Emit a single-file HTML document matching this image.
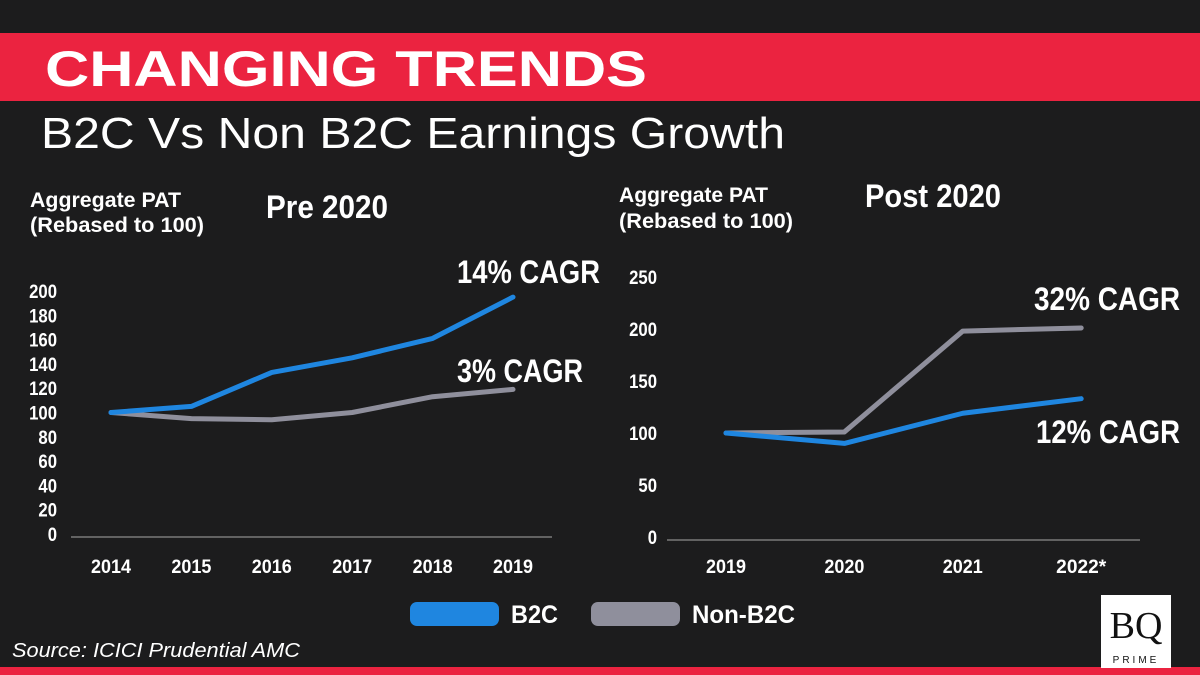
<!DOCTYPE html>
<html><head><meta charset="utf-8"><style>
body{margin:0;width:1200px;height:675px;overflow:hidden;background:#1c1c1d}
svg{display:block}
.n{font-family:"Liberation Sans Narrow","Liberation Sans",sans-serif;font-weight:bold;fill:#fff}
</style></head><body>
<svg width="1200" height="675" viewBox="0 0 1200 675">
<rect width="1200" height="675" fill="#1c1c1d"/>
<rect x="0" y="33" width="1200" height="68" fill="#eb2340"/>
<text x="45" y="86" font-family="Liberation Sans, sans-serif" font-weight="bold" font-size="50" fill="#fff" textLength="602" lengthAdjust="spacingAndGlyphs">CHANGING TRENDS</text>
<text x="41" y="148" font-family="Liberation Sans, sans-serif" font-size="44" fill="#fff" textLength="744" lengthAdjust="spacingAndGlyphs">B2C Vs Non B2C Earnings Growth</text>
<text class="n" x="30" y="207" font-size="21" textLength="151" lengthAdjust="spacingAndGlyphs">Aggregate PAT</text>
<text class="n" x="30" y="232" font-size="21" textLength="174" lengthAdjust="spacingAndGlyphs">(Rebased to 100)</text>
<text class="n" x="266" y="218" font-size="32" textLength="122" lengthAdjust="spacingAndGlyphs">Pre 2020</text>
<text class="n" x="619" y="202" font-size="21" textLength="149" lengthAdjust="spacingAndGlyphs">Aggregate PAT</text>
<text class="n" x="619" y="228" font-size="21" textLength="174" lengthAdjust="spacingAndGlyphs">(Rebased to 100)</text>
<text class="n" x="865" y="207" font-size="32" textLength="136" lengthAdjust="spacingAndGlyphs">Post 2020</text>
<g id="left"></g>
<g id="right"></g>
<text class="n" x="457" y="283" font-size="32" textLength="143" lengthAdjust="spacingAndGlyphs">14% CAGR</text>
<text class="n" x="457" y="382" font-size="32" textLength="126" lengthAdjust="spacingAndGlyphs">3% CAGR</text>
<text class="n" x="1034" y="310" font-size="32" textLength="146" lengthAdjust="spacingAndGlyphs">32% CAGR</text>
<text class="n" x="1036" y="443" font-size="32" textLength="144" lengthAdjust="spacingAndGlyphs">12% CAGR</text>
<rect x="410" y="602" width="89" height="24" rx="7" fill="#1f86e0"/>
<text class="n" x="511" y="623" font-size="25" textLength="47" lengthAdjust="spacingAndGlyphs">B2C</text>
<rect x="591" y="602" width="89" height="24" rx="7" fill="#8f8f9c"/>
<text class="n" x="692" y="623" font-size="25" textLength="103" lengthAdjust="spacingAndGlyphs">Non-B2C</text>
<text x="12" y="657" font-family="Liberation Sans, sans-serif" font-style="italic" font-size="20" fill="#fff" textLength="288" lengthAdjust="spacingAndGlyphs">Source: ICICI Prudential AMC</text>
<rect x="0" y="667" width="1200" height="8" fill="#eb2340"/>
<g>
<rect x="1101" y="595" width="70" height="73" fill="#fff"/>
<text x="1136" y="638" text-anchor="middle" font-family="Liberation Serif, serif" font-size="38" fill="#111">BQ</text>
<text x="1136" y="663" text-anchor="middle" font-family="Liberation Sans, sans-serif" font-size="10" letter-spacing="3" fill="#111">PRIME</text>
</g>
</svg>
<script>
const leftYears=["2014","2015","2016","2017","2018","2019"];
const leftB2C=[100,105,133,145,161,195];
const leftNon=[100,95,94,100,113,119];
const leftTicks=[0,20,40,60,80,100,120,140,160,180,200];
const rightYears=["2019","2020","2021","2022*"];
const rightB2C=[100,90,119,133];
const rightNon=[100,101,198,201];
const rightTicks=[0,50,100,150,200,250];
const NS="http://www.w3.org/2000/svg";
function mk(tag,attrs,parent){const e=document.createElementNS(NS,tag);for(const k in attrs)e.setAttribute(k,attrs[k]);parent.appendChild(e);return e;}
function chart(g,cats,s1,s2,ticks,cfg){
  const y=v=>cfg.y0-v*cfg.k;
  const x=i=>cfg.x0+i*cfg.dx;
  const ax=mk('line',{x1:cfg.ax1,x2:cfg.ax2,y1:cfg.y0+3,y2:cfg.y0+3,stroke:'#7a7a7a','stroke-width':1.5},g);
  
  
  ticks.forEach(t=>{const s=String(t);const e=mk('text',{x:cfg.tx,y:y(t)+7,'text-anchor':'end','font-size':19,class:'n',textLength:s.length*9.3,lengthAdjust:'spacingAndGlyphs'},g);e.textContent=s;
    
    });
  cats.forEach((c,i)=>{const e=mk('text',{x:x(i),y:573,'text-anchor':'middle','font-size':19,class:'n',textLength:c.length*10,lengthAdjust:'spacingAndGlyphs'},g);e.textContent=c;
    
    });
  [[s2,'#8f8f9c','non-b2c-line'],[s1,'#1f86e0','b2c-line']].forEach(([s,col,nm])=>{
    const p=mk('polyline',{points:s.map((v,i)=>x(i)+','+y(v)).join(' '),fill:'none',stroke:col,'stroke-width':5,'stroke-linejoin':'round','stroke-linecap':'round'},g);
    
    
  });
}
chart(document.getElementById('left'),leftYears,leftB2C,leftNon,leftTicks,{y0:534,k:1.215,x0:111,dx:80.4,ax1:71,ax2:552,tx:57});
chart(document.getElementById('right'),rightYears,rightB2C,rightNon,rightTicks,{y0:537,k:1.04,x0:726,dx:118.4,ax1:667,ax2:1140,tx:657});
</script>
</body></html>
